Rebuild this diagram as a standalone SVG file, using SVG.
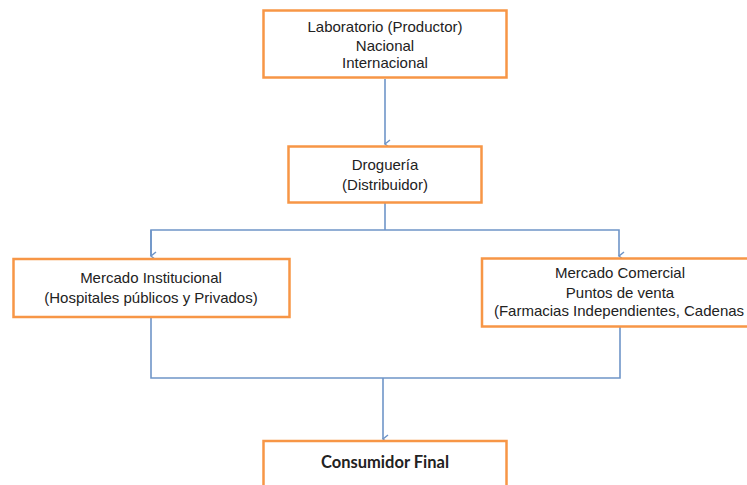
<svg xmlns="http://www.w3.org/2000/svg" width="747" height="485" viewBox="0 0 747 485">
<style>
.box{fill:#fff;stroke:#F79646;stroke-width:2.5}
.t{font-family:"Liberation Sans",Arial,sans-serif;font-size:15px;fill:#222;text-anchor:middle}
.b{font-family:Lato,"Liberation Sans",sans-serif;font-size:16.5px;font-weight:bold;fill:#222;text-anchor:middle}
.c{fill:none;stroke:#6F95C8;stroke-width:1.6}
</style>
<defs>
<marker id="ar" markerWidth="10" markerHeight="10" refX="5" refY="8" orient="auto" markerUnits="userSpaceOnUse" viewBox="0 0 10 10">
<path d="M1,3 L5,8 L9,3" fill="none" stroke="#6F95C8" stroke-width="1.5"/>
</marker>
</defs>
<rect width="747" height="485" fill="#fff"/>
<g id="connectors">
<path class="c" d="M385,79 V144" marker-end="url(#ar)"/>
<path class="c" d="M151,256 V230 H619 V256" marker-end="url(#ar)"/>
<path class="c" d="M151,230 V256" marker-end="url(#ar)"/>
<path class="c" d="M385,203 V230"/>
<path class="c" d="M151,318 V378 H620 V327"/>
<path class="c" d="M383,378 V439" marker-end="url(#ar)"/>
</g>
<g id="laboratorio">
<rect class="box" x="263.5" y="10.5" width="243" height="67"/>
<text class="t" x="385" y="32">Laboratorio (Productor)</text>
<text class="t" x="385" y="51">Nacional</text>
<text class="t" x="385" y="68">Internacional</text>
</g>
<g id="drogueria">
<rect class="box" x="288.5" y="146.5" width="193" height="56"/>
<text class="t" x="385" y="170">Droguería</text>
<text class="t" x="385" y="190">(Distribuidor)</text>
</g>
<g id="institucional">
<rect class="box" x="13.5" y="259" width="276" height="58"/>
<text class="t" x="151" y="283">Mercado Institucional</text>
<text class="t" x="151" y="303">(Hospitales públicos y Privados)</text>
</g>
<g id="comercial">
<rect class="box" x="482" y="258.5" width="280" height="68"/>
<text class="t" x="620" y="278">Mercado Comercial</text>
<text class="t" x="620" y="298">Puntos de venta</text>
<text class="t" x="619" y="316">(Farmacias Independientes, Cadenas</text>
</g>
<g id="consumidor">
<rect class="box" x="263.5" y="441" width="243" height="60"/>
<text class="b" x="385" y="468">Consumidor Final</text>
</g>
</svg>
